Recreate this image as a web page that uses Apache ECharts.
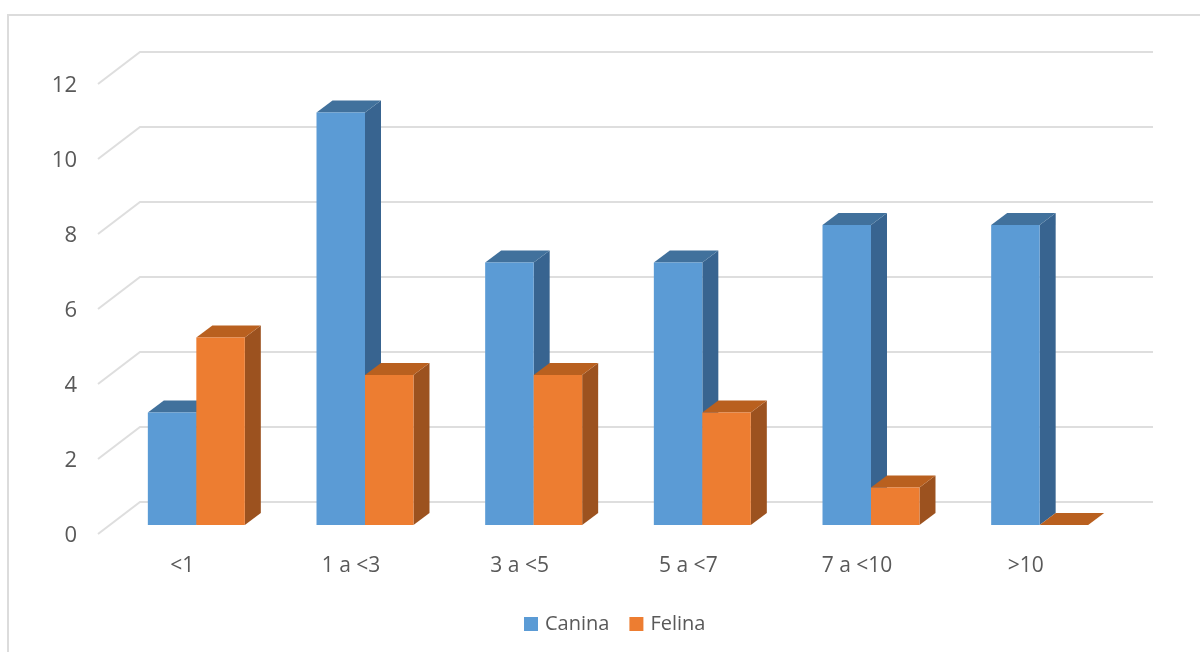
<!DOCTYPE html>
<html>
<head>
<meta charset="utf-8">
<style>html,body{margin:0;padding:0;background:#fff;overflow:hidden}#chart{width:1200px;height:652px}</style>
<script src="https://cdn.jsdelivr.net/npm/echarts@6/dist/echarts.min.js"></script>
</head>
<body>
<div id="chart"></div>
<script>
// Casos por faixa etária, espécies canina e felina
const categories = ['<1', '1 a <3', '3 a <5', '5 a <7', '7 a <10', '>10'];
const canina = [3, 11, 7, 7, 8, 8];
const felina = [5, 4, 4, 3, 1, 0];
const yTicks = [0, 2, 4, 6, 8, 10, 12];

// Perspective of the pseudo-3D scene, in pixels
const BAR_DEPTH = { x: 16, y: 12 };
const WALL_BACK = { x: 28, y: 23 };
const WALL_FRONT = { x: 14, y: 9 };
const BAR_RATIO = 0.2875;

const palette = {
  canina: { front: '#5B9BD5', top: '#41719C', side: '#386490' },
  felina: { front: '#ED7D31', top: '#B9601F', side: '#9C521F' }
};

function prism(colors, dir) {
  return function (params, api) {
    const idx = api.value(0);
    const top = api.coord([idx, api.value(1)]);
    const base = api.coord([idx, 0]);
    const w = api.size([1, 0])[0] * BAR_RATIO;
    const x0 = dir < 0 ? top[0] - w : top[0];
    const x1 = x0 + w;
    const dx = BAR_DEPTH.x, dy = BAR_DEPTH.y;
    const poly = (points, fill) => ({
      type: 'polygon',
      shape: { points },
      style: { fill, stroke: null }
    });
    return {
      type: 'group',
      children: [
        poly([[x1, top[1]], [x1 + dx, top[1] - dy], [x1 + dx, base[1] - dy], [x1, base[1]]], colors.side),
        poly([[x0, top[1]], [x0 + dx, top[1] - dy], [x1 + dx, top[1] - dy], [x1, top[1]]], colors.top),
        { type: 'rect', shape: { x: x0, y: top[1], width: w, height: base[1] - top[1] }, style: { fill: colors.front } }
      ]
    };
  };
}

function wallLine(params, api) {
  const y = api.coord([0, api.value(0)])[1];
  const cs = params.coordSys;
  return {
    type: 'polyline',
    shape: {
      points: [
        [cs.x - WALL_FRONT.x, y + WALL_FRONT.y],
        [cs.x + WALL_BACK.x, y - WALL_BACK.y],
        [cs.x + cs.width + WALL_BACK.x + 1, y - WALL_BACK.y]
      ]
    },
    style: { fill: null, stroke: '#DEDEDE', lineWidth: 2 }
  };
}

const chart = echarts.init(document.getElementById('chart'), null, { renderer: 'canvas' });
chart.setOption({
  animation: false,
  backgroundColor: '#fff',
  textStyle: { fontFamily: '"Open Sans", sans-serif' },
  graphic: [{
    type: 'polyline',
    silent: true,
    shape: { points: [[8, 652], [8, 15], [1200, 15]] },
    style: { fill: null, stroke: '#DCDCDC', lineWidth: 2 }
  }],
  legend: {
    data: ['Canina', 'Felina'],
    left: 519,
    top: 609,
    icon: 'rect',
    itemWidth: 14,
    itemHeight: 14,
    itemGap: 20,
    textStyle: { color: '#595959', fontSize: 20, padding: [0, 0, 0, 2] }
  },
  grid: { left: 112, top: 75, width: 1012, height: 450 },
  xAxis: {
    type: 'category',
    data: categories,
    axisLine: { show: false },
    axisTick: { show: false },
    axisLabel: { color: '#595959', fontSize: 21, margin: 31, padding: [0, 28, 0, 0] }
  },
  yAxis: {
    type: 'value',
    min: 0,
    max: 12,
    interval: 2,
    splitLine: { show: false },
    axisLine: { show: false },
    axisTick: { show: false },
    axisLabel: { color: '#595959', fontSize: 22, margin: 35, verticalAlign: 'top', lineHeight: 22 }
  },
  series: [
    {
      type: 'custom',
      silent: true,
      clip: false,
      coordinateSystem: 'cartesian2d',
      encode: { y: 0 },
      data: yTicks.map(v => [v]),
      renderItem: wallLine,
      z: 1
    },
    {
      name: 'Canina',
      type: 'custom',
      clip: false,
      itemStyle: { color: palette.canina.front },
      encode: { x: 0, y: 1 },
      data: canina.map((v, i) => [i, v]),
      renderItem: prism(palette.canina, -1),
      z: 2
    },
    {
      name: 'Felina',
      type: 'custom',
      clip: false,
      itemStyle: { color: palette.felina.front },
      encode: { x: 0, y: 1 },
      data: felina.map((v, i) => [i, v]),
      renderItem: prism(palette.felina, 1),
      z: 3
    }
  ]
});
</script>
</body>
</html>
